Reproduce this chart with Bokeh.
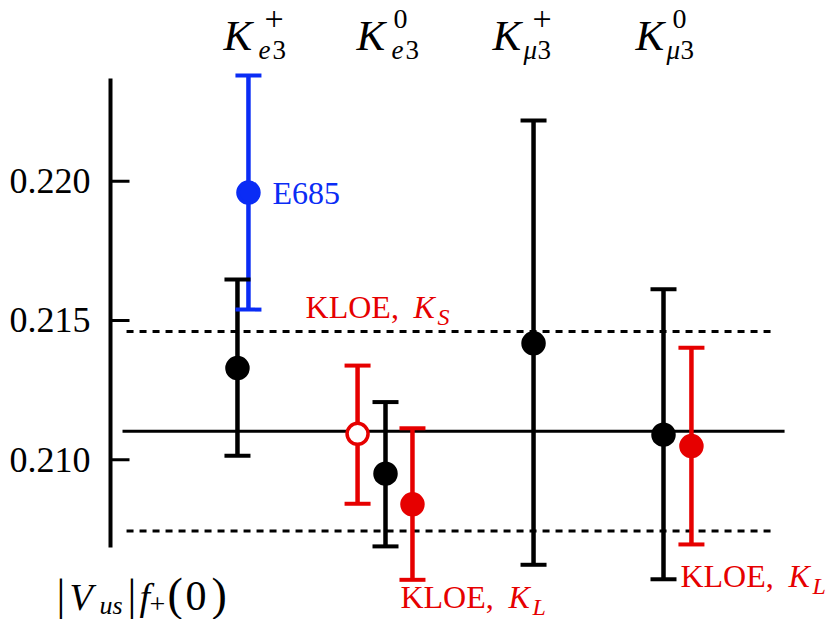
from bokeh.plotting import figure
from bokeh.models import Range1d, Label
from bokeh.core.properties import value
from bokeh.embed import file_html
from bokeh.resources import INLINE

# ---------------- data ----------------
# column headers: K_{l3}^{charge}
decay_sub = ["e", "e", "μ", "μ"]
charge_sup = ["+", "0", "+", "0"]
header_x = [0.835, 1.791, 2.770, 3.799]      # left edge of each header
header_y = 0.22469

# measurements of |V_us| f_+(0)
meas_x = [0.935, 1.014, 1.799, 2.000, 2.194, 3.065, 4.000, 4.201]
meas_val = [0.21329, 0.21959, 0.21093, 0.20950, 0.20840, 0.21418, 0.21090, 0.21049]
meas_hi = [0.21647, 0.22379, 0.21338, 0.21207, 0.21113, 0.22218, 0.21612, 0.21402]
meas_lo = [0.21014, 0.21539, 0.20842, 0.20689, 0.20569, 0.20623, 0.20571, 0.20696]
meas_color = ["black", "blue", "red", "black", "red", "black", "black", "red"]
meas_open = [False, False, True, False, False, False, False, False]

# average and band
avg_val = 0.21102
avg_x = [0.108, 4.871]
band_vals = [0.21460, 0.20744]
band_x = [0.137, 4.813]

# y axis
axis_x = 0.0216
axis_bounds = [0.20685, 0.22368]
y_ticks = [0.210, 0.215, 0.220]
y_tick_labels = [f"{t:.3f}" for t in y_ticks]

COL = {"black": "#000000", "blue": "#0a2cf5", "red": "#e60000"}
FONT = "Liberation Serif"

# ---------------- figure ----------------
p = figure(width=836, height=619,
           x_range=Range1d(-0.7698, 5.2446), y_range=Range1d(0.204266, 0.226484),
           x_axis_type=None, y_axis_type=None,
           toolbar_location=None, output_backend="svg", min_border=0)
p.outline_line_color = None
p.background_fill_color = "white"
p.border_fill_color = "white"

# y axis drawn through the data scales
p.segment(x0=[axis_x], y0=[axis_bounds[0]], x1=[axis_x], y1=[axis_bounds[1]],
          line_color="black", line_width=4)
p.ray(x=[axis_x] * len(y_ticks), y=y_ticks, length=19, length_units="screen",
      angle=0, line_color="black", line_width=3)
p.text(x=[axis_x] * len(y_ticks), y=y_ticks, text=y_tick_labels,
       x_offset=-20, text_align="right", text_baseline="middle",
       text_font=value(FONT), text_font_size="36px", text_color="black")

# horizontal lines
p.segment(x0=[avg_x[0]], y0=[avg_val], x1=[avg_x[1]], y1=[avg_val],
          line_color="black", line_width=3)
p.segment(x0=[band_x[0]] * 2, y0=band_vals, x1=[band_x[1]] * 2, y1=band_vals,
          line_color="black", line_width=3, line_dash="7 6")

cols = [COL[c] for c in meas_color]
fills = ["white" if o else COL[c] for c, o in zip(meas_color, meas_open)]

# error bars
p.segment(x0=meas_x, y0=meas_lo, x1=meas_x, y1=meas_hi, line_color=cols, line_width=4.5)
p.scatter(x=meas_x + meas_x, y=meas_lo + meas_hi, marker="dash", size=26,
          line_color=cols + cols, line_width=4)
p.scatter(x=meas_x, y=meas_val, marker="circle", size=21,
          fill_color=fills, line_color=cols, line_width=3.5)


def rich(x, y, pieces, color, on_baseline=True):
    # pieces: (text, dx px, baseline shift px (up +), font px, style)
    for txt, dx, dy, size, style in pieces:
        off = dy + (round(0.3375 * size) if on_baseline else 0)
        p.add_layout(Label(x=x, y=y, text=txt, x_offset=dx, y_offset=off,
                           text_font=FONT, text_font_size=f"{size}px",
                           text_font_style=style, text_color=color,
                           text_align="left", text_baseline="middle"))


# column headers
for hx, sub, sup in zip(header_x, decay_sub, charge_sup):
    e = sub == "e"
    plus = sup == "+"
    rich(hx, header_y, [
        ("K", 0, 0, 43, "italic"),
        (sub, 35 if e else 31, -9, 27, "italic"),
        ("3", 49 if e else 45, -9, 27, "normal"),
        (sup, (41 if e else 40) if plus else 37, 20 if plus else 22,
         34 if plus else 28, "normal"),
    ], "black")

# annotations
rich(meas_x[1], meas_val[1], [("E685", 24, 0, 32, "normal")], COL["blue"], on_baseline=False)


def kloe(x, y, dx, sub):
    rich(x, y, [
        ("KLOE,", dx, 0, 32, "normal"),
        ("K", dx + 108, 0, 32, "italic"),
        (sub, dx + 132, -7, 24, "italic"),
    ], COL["red"])


kloe(meas_x[2], 0.215071, -52, "S")
kloe(meas_x[4], 0.204663, -12, "L")
kloe(meas_x[7], 0.205417, -11, "L")

# quantity label at bottom-left
rich(-0.3453, 0.204591, [
    ("|", -3, 0, 44, "normal"),
    ("V", 10, 0, 38, "italic"),
    ("us", 40, -4, 26, "italic"),
    ("|", 68, 0, 44, "normal"),
    ("f", 80, 0, 38, "italic"),
    ("+", 90, -3, 28, "normal"),
    ("(", 108, 0, 46, "normal"),
    ("0", 126, 0, 42, "normal"),
    (")", 152, 0, 46, "normal"),
], "black")

open("out.html", "w").write(file_html(p, INLINE))
